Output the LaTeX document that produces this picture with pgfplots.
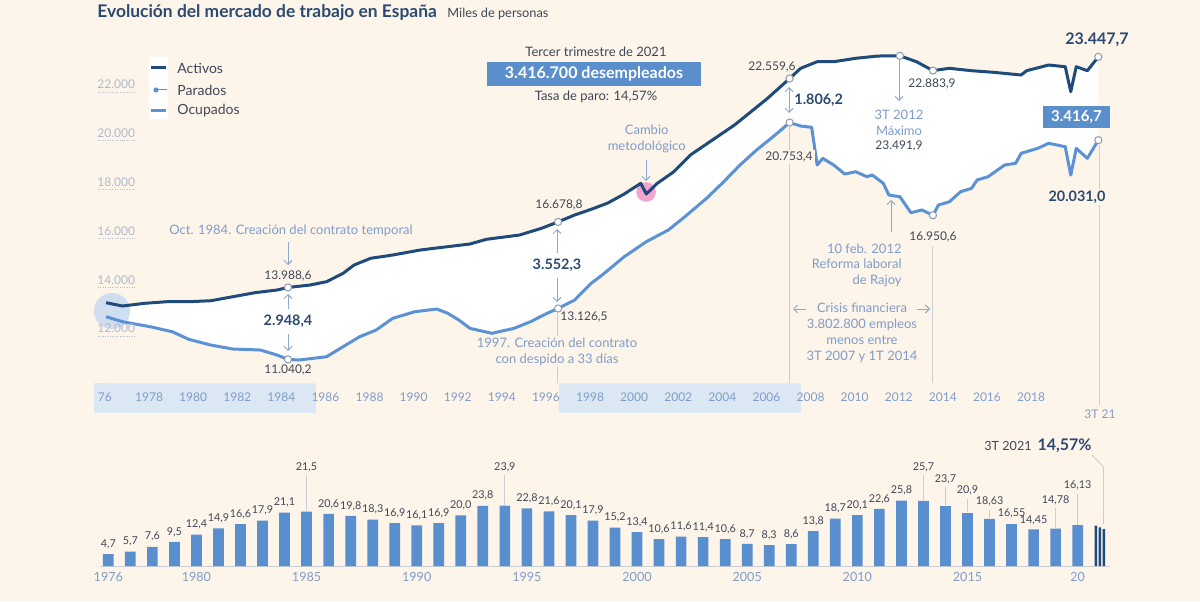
\documentclass[border=0pt]{standalone}
\usepackage{pgfplots}
\pgfplotsset{compat=1.18}
\usepackage{pgfplotstable}
\usetikzlibrary{arrows.meta}
\usepackage{fontspec}
\setmainfont{Lato}

\definecolor{bg}{HTML}{FDF4EA}
\definecolor{act}{HTML}{1F4A7C}
\definecolor{ocu}{HTML}{5B92D4}
\definecolor{barc}{HTML}{5A8FCF}
\definecolor{boxc}{HTML}{5B8FCB}
\definecolor{ann}{HTML}{7F9DC9}
\definecolor{num}{HTML}{3E4858}
\definecolor{bnum}{HTML}{2B4A72}
\definecolor{tickc}{HTML}{AEBBCC}
\definecolor{band}{HTML}{DCE7F4}
\definecolor{vline}{HTML}{C9CDD3}
\definecolor{pinkc}{HTML}{F3A5CF}
\definecolor{arr}{HTML}{8EA9CF}
\definecolor{startc}{HTML}{C7DAF0}
\definecolor{mtick}{HTML}{D3C6CB}
\definecolor{markc}{HTML}{8A9BB0}

\newcommand*{\fa}{\fontsize{6.5}{8}\selectfont}
\newcommand*{\fn}{\fontsize{6}{7}\selectfont}
\newcommand*{\fb}{\fontsize{7.2}{8.5}\selectfont\bfseries}

\pgfplotstableread{
t v
1976.5 13363
1977.25 13228
1978.25 13339
1979.25 13404
1980.25 13404
1981.25 13445
1982.25 13609
1983.25 13774
1984.25 13884
1984.75 13988.6
1985.75 14089
1986.5 14225
1987.25 14569
1987.75 14910
1988.5 15185
1989.5 15320
1990.75 15525
1991.75 15636
1993.0 15771
1993.75 15964
1995.25 16140
1996.25 16415
1997.0 16678.8
1997.75 16961
1998.5 17194
1999.25 17450
2000.0 17822
2000.75 18261
2001.0 17822
2001.5 18261
2002.25 18737
2003.0 19422
2004.0 20037
2005.0 20652
2005.75 21198
2006.5 21747
2007.5 22559.6
2008.0 22978
2008.75 23249
2009.5 23249
2010.5 23388
2011.5 23482
2012.5 23491.9
2013.25 23249
2014.0 22883.9
2014.75 22978
2015.75 22880
2016.75 22814
2018.0 22703
2018.25 22880
2019.25 23113
2020.0 23044
2020.25 22018
2020.5 23044
2021.0 22880
2021.5 23447.7
}\actdata

\pgfplotstableread{
t v
1976.5 12789
1977.25 12584
1978.5 12379
1979.5 12174
1980.25 11862
1981.25 11628
1982.25 11464
1983.5 11423
1984.25 11218
1984.75 11040.2
1985.25 11013
1986.5 11148
1987.25 11559
1988.0 11969
1988.75 12244
1989.5 12723
1990.5 12994
1991.5 13105
1992.0 12929
1992.5 12654
1993.0 12313
1994.0 12108
1995.0 12313
1995.75 12584
1996.5 12929
1997.0 13126.5
1997.75 13474
1998.5 14159
1999.0 14500
2000.0 15250
2001.0 15866
2002.0 16345
2002.75 16891
2003.75 17658
2004.5 18314
2005.25 19011
2006.0 19627
2006.75 20172
2007.5 20753.4
2008.0 20611
2008.5 20558
2008.75 19011
2009.0 19286
2009.5 19011
2010.0 18642
2010.5 18737
2011.0 18532
2011.25 18601
2011.75 18261
2012.0 17781
2012.5 17711
2013.0 17055
2013.5 17166
2014.0 16950.6
2014.25 17371
2014.75 17506
2015.25 17916
2015.75 18056
2016.0 18396
2016.5 18532
2017.25 19011
2017.75 19081
2018.0 19491
2018.75 19696
2019.25 19902
2020.0 19762
2020.25 18601
2020.5 19696
2021.0 19286
2021.5 20031.0
}\ocudata

\pgfplotstableread{
x v lab ly
1976 4.7 4,7 8.65
1977 5.7 5,7 9.65
1978 7.6 7,6 11.55
1979 9.5 9,5 13.45
1980 12.4 12,4 16.35
1981 14.9 14,9 18.85
1982 16.6 16,6 20.55
1983 17.9 17,9 21.85
1984 21.1 21,1 25.05
1985 21.5 21,5 39.2
1986 20.6 20,6 24.55
1987 19.8 19,8 23.75
1988 18.3 18,3 22.25
1989 16.9 16,9 20.85
1990 16.1 16,1 20.05
1991 16.9 16,9 20.85
1992 20.0 20,0 23.95
1993 23.8 23,8 27.75
1994 23.9 23,9 39.2
1995 22.8 22,8 26.75
1996 21.6 21,6 25.55
1997 20.1 20,1 24.05
1998 17.9 17,9 21.85
1999 15.2 15,2 19.15
2000 13.4 13,4 17.35
2001 10.6 10,6 14.55
2002 11.6 11,6 15.55
2003 11.4 11,4 15.35
2004 10.6 10,6 14.55
2005 8.7 8,7 12.65
2006 8.3 8,3 12.25
2007 8.6 8,6 12.55
2008 13.8 13,8 17.75
2009 18.7 18,7 22.65
2010 20.1 20,1 24.05
2011 22.6 22,6 26.55
2012 25.8 25,8 29.75
2013 25.7 25,7 39.2
2014 23.7 23,7 34.4
2015 20.9 20,9 29.8
2016 18.63 18,63 25.4
2017 16.55 16,55 21.0
2018 14.45 14,45 18.2
2019 14.78 14,78 26.1
2020 16.13 16,13 31.7
}\bardata

\begin{document}
\begin{tikzpicture}
\fill[bg] (0,0) rectangle (600pt,300.5pt);

% bands and quarterly ticks under the top axis (pixel coordinates)
\begin{scope}[x=0.5pt,y=-0.5pt,shift={(0pt,300.5pt)}]
\fill[band] (94,383) rectangle (315.5,413);
\fill[band] (558.6,383) rectangle (801,413);
\foreach \i in {0,...,180}{
  \draw[mtick, line width=0.35pt] ({106.7+\i*5.5125},377) -- ({106.7+\i*5.5125},383);
}
\end{scope}

% ---------------- top axis
\begin{axis}[
  scale only axis, width=518.18pt, height=175.9pt,
  at={(42pt,109pt)}, anchor=south west,
  xmin=1975.5, xmax=2022.5, ymin=10070, ymax=24500,
  enlargelimits=false, clip=false,
  axis x line*=bottom, axis y line=none,
  axis line style={draw=none},
  ytick=\empty,
  xtick={1976.45,1978.45,1980.45,1982.45,1984.45,1986.45,1988.45,1990.45,1992.45,1994.45,1996.45,1998.45,2000.45,2002.45,2004.45,2006.45,2008.45,2010.45,2012.45,2014.45,2016.45,2018.45},
  xticklabels={76,1978,1980,1982,1984,1986,1988,1990,1992,1994,1996,1998,2000,2002,2004,2006,2008,2010,2012,2014,2016,2018},
  major tick length=0pt,
  xticklabel style={font=\fn, text=ann, anchor=center, yshift=-7pt},
]
\addplot[fill=white, draw=none] table[x=t,y=v]{\actdata} \closedcycle;
\addplot[fill=bg, draw=none] table[x=t,y=v]{\ocudata} \closedcycle;

\fill[startc, opacity=0.85] (axis cs:1976.77,13023) circle[radius=9pt];
\fill[pinkc] (axis cs:2000.99,17904) circle[radius=4.9pt];

\addplot[act, line width=1.5pt, line join=round] table[x=t,y=v]{\actdata};
\addplot[ocu, line width=1.5pt, line join=round] table[x=t,y=v]{\ocudata};

\addplot[only marks, mark=*, mark size=1.8pt, mark options={fill=white, draw=markc, line width=0.5pt}]
  coordinates {(1984.75,13988.6) (1997.0,16678.8) (2007.5,22559.6) (2012.5,23491.9) (2014.0,22883.9) (2021.5,23447.7)
               (1984.75,11040.2) (1997.0,13126.5) (2007.5,20753.4) (2014.0,16950.6) (2021.5,20031.0)};
\end{axis}

% ---------------- bottom axis
\begin{axis}[
  scale only axis, width=507.8pt, height=37.95pt,
  at={(48.65pt,17.5pt)}, anchor=south west,
  xmin=1975.5, xmax=2021.6, ymin=0, ymax=30,
  enlargelimits=false, clip=false,
  axis x line*=bottom, axis y line=none,
  axis line style={draw=none},
  ytick=\empty,
  xtick={1976,1980,1985,1990,1995,2000,2005,2010,2015,2020},
  xticklabels={1976,1980,1985,1990,1995,2000,2005,2010,2015,20},
  major tick length=0pt,
  xticklabel style={font=\fontsize{6.3}{7}\selectfont, text=ann, anchor=center, yshift=-5.35pt},
]
\draw[vline, line width=0.4pt] (axis cs:1975.6,0) -- (axis cs:2021.45,0);
\addplot[ybar, bar width=5.35pt, bar shift=0pt, fill=barc, draw=none] table[x=x,y=v]{\bardata};
\addplot[ybar, bar width=1.25pt, bar shift=0pt, fill=act, draw=none] coordinates {(2020.83,15.98) (2021.01,15.26) (2021.19,14.57)};
\addplot[draw=none, mark=none, nodes near coords, point meta=explicit symbolic,
  nodes near coords style={font=\fontsize{5.4}{7}\selectfont, text=num, anchor=center, inner sep=0pt}]
  table[x=x,y=ly,meta=lab]{\bardata};
\draw[vline, line width=0.4pt] (axis cs:1985,21.8) -- (axis cs:1985,36.0);
\draw[vline, line width=0.4pt] (axis cs:1994,24.2) -- (axis cs:1994,36.0);
\draw[vline, line width=0.4pt] (axis cs:2013,26.0) -- (axis cs:2013,36.0);
\draw[vline, line width=0.4pt] (axis cs:2014,24.0) -- (axis cs:2014,31.2);
\draw[vline, line width=0.4pt] (axis cs:2015,21.2) -- (axis cs:2015,26.6);
\draw[vline, line width=0.4pt] (axis cs:2016,18.9) -- (axis cs:2016,22.2);
\draw[vline, line width=0.4pt] (axis cs:2019,15.1) -- (axis cs:2019,22.9);
\draw[vline, line width=0.4pt] (axis cs:2020,16.4) -- (axis cs:2020,28.5);
\end{axis}

% ---------------- annotations in pixel coordinates
\begin{scope}[x=0.5pt,y=-0.5pt,shift={(0pt,300.5pt)},
  ar/.style={arr, line width=0.5pt, -{Straight Barb[length=2pt,width=4pt]}},
  dar/.style={arr, line width=0.5pt, {Straight Barb[length=2pt,width=4pt]}-{Straight Barb[length=2pt,width=4pt]}}]
% title
\node[anchor=base west, inner sep=0, text=bnum, font=\fontsize{8.7}{10}\selectfont\bfseries] at (97,17.5) {Evolución del mercado de trabajo en España};
\node[anchor=base west, inner sep=0, text=num, font=\fontsize{6.4}{7}\selectfont] at (447,17.5) {Miles de personas};
% y labels
\foreach \yy/\lab in {92.1/22.000,140.9/20.000,189.7/18.000,238.4/16.000,287.2/14.000,336.0/12.000}{
  \node[anchor=west, inner sep=0, text=tickc, font=\fn] at (97,\yy-7.5) {\lab};
  \draw[tickc, line width=0.4pt, dash pattern=on 0.5pt off 0.7pt] (98,\yy) -- (135,\yy);
}
% legend
\fill[white] (149,57) rectangle (168,119);
\draw[act, line width=1.5pt] (151,68) -- (166,68);
\draw[ocu, line width=0.5pt] (157,90) -- (167,90);
\fill[ocu] (156,90) circle[radius=1.3pt];
\draw[ocu, line width=1.5pt] (151,111) -- (166,111);
\node[anchor=west, inner sep=0, text=num, font=\fontsize{7}{8}\selectfont] at (177,68) {Activos};
\node[anchor=west, inner sep=0, text=num, font=\fontsize{7}{8}\selectfont] at (177,90) {Parados};
\node[anchor=west, inner sep=0, text=num, font=\fontsize{7}{8}\selectfont] at (177,111) {Ocupados};
% headline box
\node[font=\fa, text=num, inner sep=0] at (596,51.5) {Tercer trimestre de 2021};
\fill[boxc] (487,62) rectangle (701,86);
\node[font=\fontsize{8}{9}\selectfont\bfseries, text=white, inner sep=0] at (594,74) {3.416.700 desempleados};
\node[font=\fa, text=num, inner sep=0] at (596,97) {Tasa de paro: 14,57\%};
\node[font=\fa, text=ann, align=center, inner sep=0] at (646.7,139) {Cambio\\metodológico};
\draw[ar] (646,160) -- (646,181);
% 1984
\node[font=\fa, text=ann, inner sep=0] at (291,231) {Oct. 1984. Creación del contrato temporal};
\draw[ar] (288,242) -- (288,265);
\node[font=\fn, text=num, inner sep=0] at (288,276) {13.988,6};
\draw[ar] (288,309) -- (288,294);
\node[font=\fb, text=bnum, inner sep=0] at (288,321) {2.948,4};
\draw[ar] (288,334) -- (288,351);
\node[font=\fn, text=num, inner sep=0] at (288,370) {11.040,2};
% 1997
\node[font=\fn, text=num, inner sep=0] at (559,205) {16.678,8};
\draw[ar] (557,253) -- (557,229);
\node[font=\fb, text=bnum, inner sep=0] at (557,265) {3.552,3};
\draw[ar] (557,278) -- (557,302);
\node[font=\fn, text=num, inner sep=0] at (584,317) {13.126,5};
\draw[vline, line width=0.4pt] (557,313) -- (557,383);
\node[font=\fa, text=ann, align=center, fill=bg, inner sep=1pt] at (557,351.5) {1997. Creación del contrato\\con despido a 33 días};
% 2007
\node[font=\fn, text=num, inner sep=0] at (772,67) {22.559,6};
\draw[dar] (789,87) -- (789,113);
\node[font=\fb, text=bnum, anchor=west, inner sep=0] at (794,100) {1.806,2};
\draw[vline, line width=0.4pt] (789,127) -- (789,383);
\node[font=\fn, text=num, fill=bg, inner sep=1pt] at (789,157) {20.753,4};
% 2012
\draw[ar] (899,60) -- (899,101);
\node[font=\fa, text=ann, inner sep=0] at (899,115) {3T 2012};
\node[font=\fa, text=ann, inner sep=0] at (899,130.5) {Máximo};
\node[font=\fn, text=num, inner sep=0] at (899,146) {23.491,9};
\node[font=\fn, text=num, inner sep=0] at (932,84) {22.883,9};
% Rajoy
\draw[ar] (891,232) -- (891,200);
\node[font=\fontsize{6.5}{7.75}\selectfont, text=ann, align=right, anchor=east, inner sep=0] at (902,265) {10 feb. 2012\\Reforma laboral\\de Rajoy};
\node[font=\fn, text=num, inner sep=0] at (933,237) {16.950,6};
\draw[vline, line width=0.4pt] (932,246) -- (932,383);
% crisis
\node[font=\fa, text=ann, align=center, inner sep=0] at (862,333) {Crisis financiera\\3.802.800 empleos\\menos entre\\3T 2007 y 1T 2014};
\draw[ar] (806,309) -- (793,309);
\draw[ar] (917,309) -- (930,309);
% right end
\node[font=\fontsize{8}{9}\selectfont\bfseries, text=bnum, inner sep=0] at (1097,40) {23.447,7};
\fill[boxc] (1043,106) rectangle (1110,128);
\node[font=\fontsize{7.5}{9}\selectfont\bfseries, text=white, inner sep=0] at (1076.5,117) {3.416,7};
\draw[vline, line width=0.4pt] (1099,145) -- (1099,405);
\node[font=\fb, text=bnum, fill=bg, inner sep=1pt] at (1077,197) {20.031,0};
\node[font=\fn, text=ann, inner sep=0] at (1100,414) {3T 21};
% bottom annotation
\draw[vline, line width=0.4pt] (1092,455) -- (1103.5,467) -- (1103.5,524);
\node[anchor=base east, inner sep=0] at (1092,450.5) {{\fontsize{6.3}{7}\selectfont\color{num}3T 2021}\hspace{3pt}{\fontsize{8}{9}\selectfont\bfseries\color{bnum}14,57\%}};
\end{scope}
\pgfresetboundingbox
\useasboundingbox (0,0) rectangle (600pt,300.5pt);
\end{tikzpicture}
\end{document}
